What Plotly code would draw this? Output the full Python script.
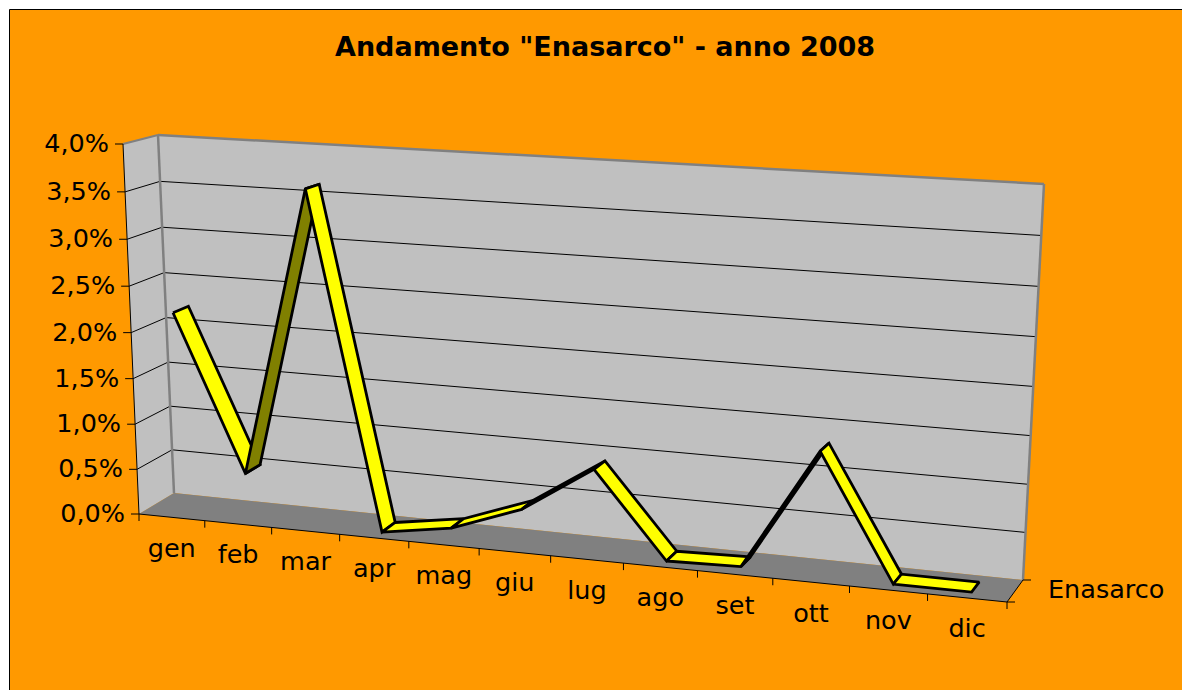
import numpy as np
import plotly.graph_objects as go

# ---- data ----
categories = ["gen", "feb", "mar", "apr", "mag", "giu", "lug", "ago", "set", "ott", "nov", "dic"]
enasarco = [2.2, 0.5, 3.61, 0.0, 0.12, 0.4, 0.9, 0.0, 0.02, 1.3, 0.0, 0.0]
y_ticks = [0.0, 0.5, 1.0, 1.5, 2.0, 2.5, 3.0, 3.5, 4.0]
y_tick_labels = ["0,0%", "0,5%", "1,0%", "1,5%", "2,0%", "2,5%", "3,0%", "3,5%", "4,0%"]
series_name = "Enasarco"
title_text = 'Andamento "Enasarco" - anno 2008'

# ---- 3-D box projection (u along months, v along value, d along depth) ----
W, H = 1182, 690
FRONT = [(139, 514), (1007, 602), (123, 144), (1028, 194)]   # BL, BR, TL, TR
BACK = [(174, 493), (1023, 580), (158, 135), (1044, 184)]
D0, D1 = 0.27, 0.72
VMAX = 4.0


def homography(c):
    src = [(0, 0), (1, 0), (0, 1), (1, 1)]
    A, b = [], []
    for (u, v), (x, y) in zip(src, c):
        A.append([u, v, 1, 0, 0, 0, -u * x, -v * x]); b.append(x)
        A.append([0, 0, 0, u, v, 1, -u * y, -v * y]); b.append(y)
    return np.append(np.linalg.solve(np.array(A, float), np.array(b, float)), 1).reshape(3, 3)


HF, HB = homography(FRONT), homography(BACK)


def plane(h, u, v):
    p = h @ np.array([u, v, 1.0])
    return p[:2] / p[2]


def proj(u, val, d):
    f = plane(HF, u, val / VMAX)
    b = plane(HB, u, val / VMAX)
    return f + (b - f) * d


def poly(points):
    pts = list(points) + [points[0]]
    return [float(p[0]) for p in pts], [float(p[1]) for p in pts]


def area(points):
    s = 0
    for a, b in zip(points, points[1:] + points[:1]):
        s += a[0] * b[1] - b[0] * a[1]
    return s


ORANGE, WALL, FLOOR, EDGE = "#FF9900", "#C0C0C0", "#808080", "#808080"
YELLOW, OLIVE = "#FFFF00", "#808000"
FONT = "DejaVu Sans"
TS = 25.5
fig = go.Figure()


def add_fill(points, color, line_color=None, width=0):
    x, y = poly(points)
    fig.add_trace(go.Scatter(x=x, y=y, mode="lines", fill="toself", fillcolor=color,
                             line=dict(color=line_color or color, width=width),
                             hoverinfo="skip", showlegend=False))


def add_line(p, q, color="#000000", width=1):
    fig.add_trace(go.Scatter(x=[float(p[0]), float(q[0])], y=[float(p[1]), float(q[1])], mode="lines",
                             line=dict(color=color, width=width), hoverinfo="skip", showlegend=False))


# walls and floor
add_fill([proj(0, 0, 1), proj(1, 0, 1), proj(1, VMAX, 1), proj(0, VMAX, 1)], WALL)
add_fill([proj(0, 0, 0), proj(0, 0, 1), proj(0, VMAX, 1), proj(0, VMAX, 0)], WALL)
add_fill([proj(0, 0, 0), proj(1, 0, 0), proj(1, 0, 1), proj(0, 0, 1)], FLOOR)

# gridlines and value ticks
for t in y_ticks[1:-1]:
    add_line(proj(0, t, 1), proj(1, t, 1), "#000000", 1)
    add_line(proj(0, t, 0), proj(0, t, 1), "#000000", 1)
for t in y_ticks:
    p = proj(0, t, 0)
    add_line(p, p + np.array([-8, 0]), "#000000", 1)

# wall outlines
add_line(proj(0, VMAX, 0), proj(0, VMAX, 1), EDGE, 2)
add_line(proj(0, VMAX, 1), proj(1, VMAX, 1), EDGE, 2.5)
add_line(proj(0, 0, 1), proj(0, VMAX, 1), EDGE, 2.5)
add_line(proj(1, 0, 1), proj(1, VMAX, 1), EDGE, 2.5)

# axis lines
add_line(proj(0, 0, 0), proj(0, VMAX, 0), "#000000", 1)
add_line(proj(0, 0, 0), proj(1, 0, 0), "#000000", 1)
add_line(proj(1, 0, 0), proj(1, 0, 1), "#000000", 1)
n = len(categories)
for i in range(n + 1):
    p = proj(i / n, 0, 0)
    add_line(p, p + np.array([0, 7]), "#000000", 1)
p = proj(1, 0, 0)
add_line(p, p + np.array([8, 0]), "#000000", 1)
p = proj(1, 0, 1)
add_line(p, p + np.array([8, 0]), "#000000", 1)

# ribbon
reference_sign = np.sign(area([proj(0, 0, D0), proj(0, 0, D1), proj(1, 0, D1), proj(1, 0, D0)]))
for i in range(n - 1):
    u0, u1 = (i + 0.5) / n, (i + 1.5) / n
    quad = [proj(u0, enasarco[i], D0), proj(u0, enasarco[i], D1),
            proj(u1, enasarco[i + 1], D1), proj(u1, enasarco[i + 1], D0)]
    color = YELLOW if np.sign(area(quad)) == reference_sign else OLIVE
    add_fill(quad, color, "#000000", 2.8)

# value labels
vx, vy = [], []
for t in y_ticks:
    p = proj(0, t, 0)
    vx.append(float(p[0]) - 14)
    vy.append(float(p[1]) + 1.5)
fig.add_trace(go.Scatter(x=vx, y=vy, mode="text", text=y_tick_labels, textposition="middle left",
                         textfont=dict(family=FONT, size=TS, color="#000000"),
                         hoverinfo="skip", showlegend=False))

# month labels
mx, my = [], []
for i in range(n):
    p = proj((i + 0.5) / n, 0, 0)
    mx.append(float(p[0]))
    my.append(float(p[1]) + 33)
fig.add_trace(go.Scatter(x=mx, y=my, mode="text", text=categories, textposition="middle center",
                         textfont=dict(family=FONT, size=TS, color="#000000"),
                         hoverinfo="skip", showlegend=False))

# depth label
p = proj(1, 0, 0.5)
fig.add_trace(go.Scatter(x=[float(p[0]) + 33], y=[float(p[1]) + 1], mode="text", text=[series_name],
                         textposition="middle right",
                         textfont=dict(family=FONT, size=TS, color="#000000"),
                         hoverinfo="skip", showlegend=False))

fig.update_layout(
    width=W, height=H, margin=dict(l=0, r=0, t=0, b=0), autosize=False,
    paper_bgcolor="#FFFFFF", plot_bgcolor="#FFFFFF", showlegend=False,
    xaxis=dict(range=[0, W], visible=False, fixedrange=True),
    yaxis=dict(range=[H, 0], visible=False, fixedrange=True),
    shapes=[dict(type="rect", xref="x", yref="y", x0=9.5, y0=9.5, x1=W + 5, y1=H + 5,
                 fillcolor=ORANGE, line=dict(color="#000000", width=1), layer="below")],
    annotations=[dict(text="<b>" + title_text + "</b>", x=605, y=46, xref="x", yref="y",
                      xanchor="center", yanchor="middle", showarrow=False,
                      font=dict(family=FONT, size=27, color="#000000"))],
)
fig.write_html("out.html", config=dict(displayModeBar=False),
               post_script="document.body.style.margin='0';document.body.style.overflow='hidden';")
